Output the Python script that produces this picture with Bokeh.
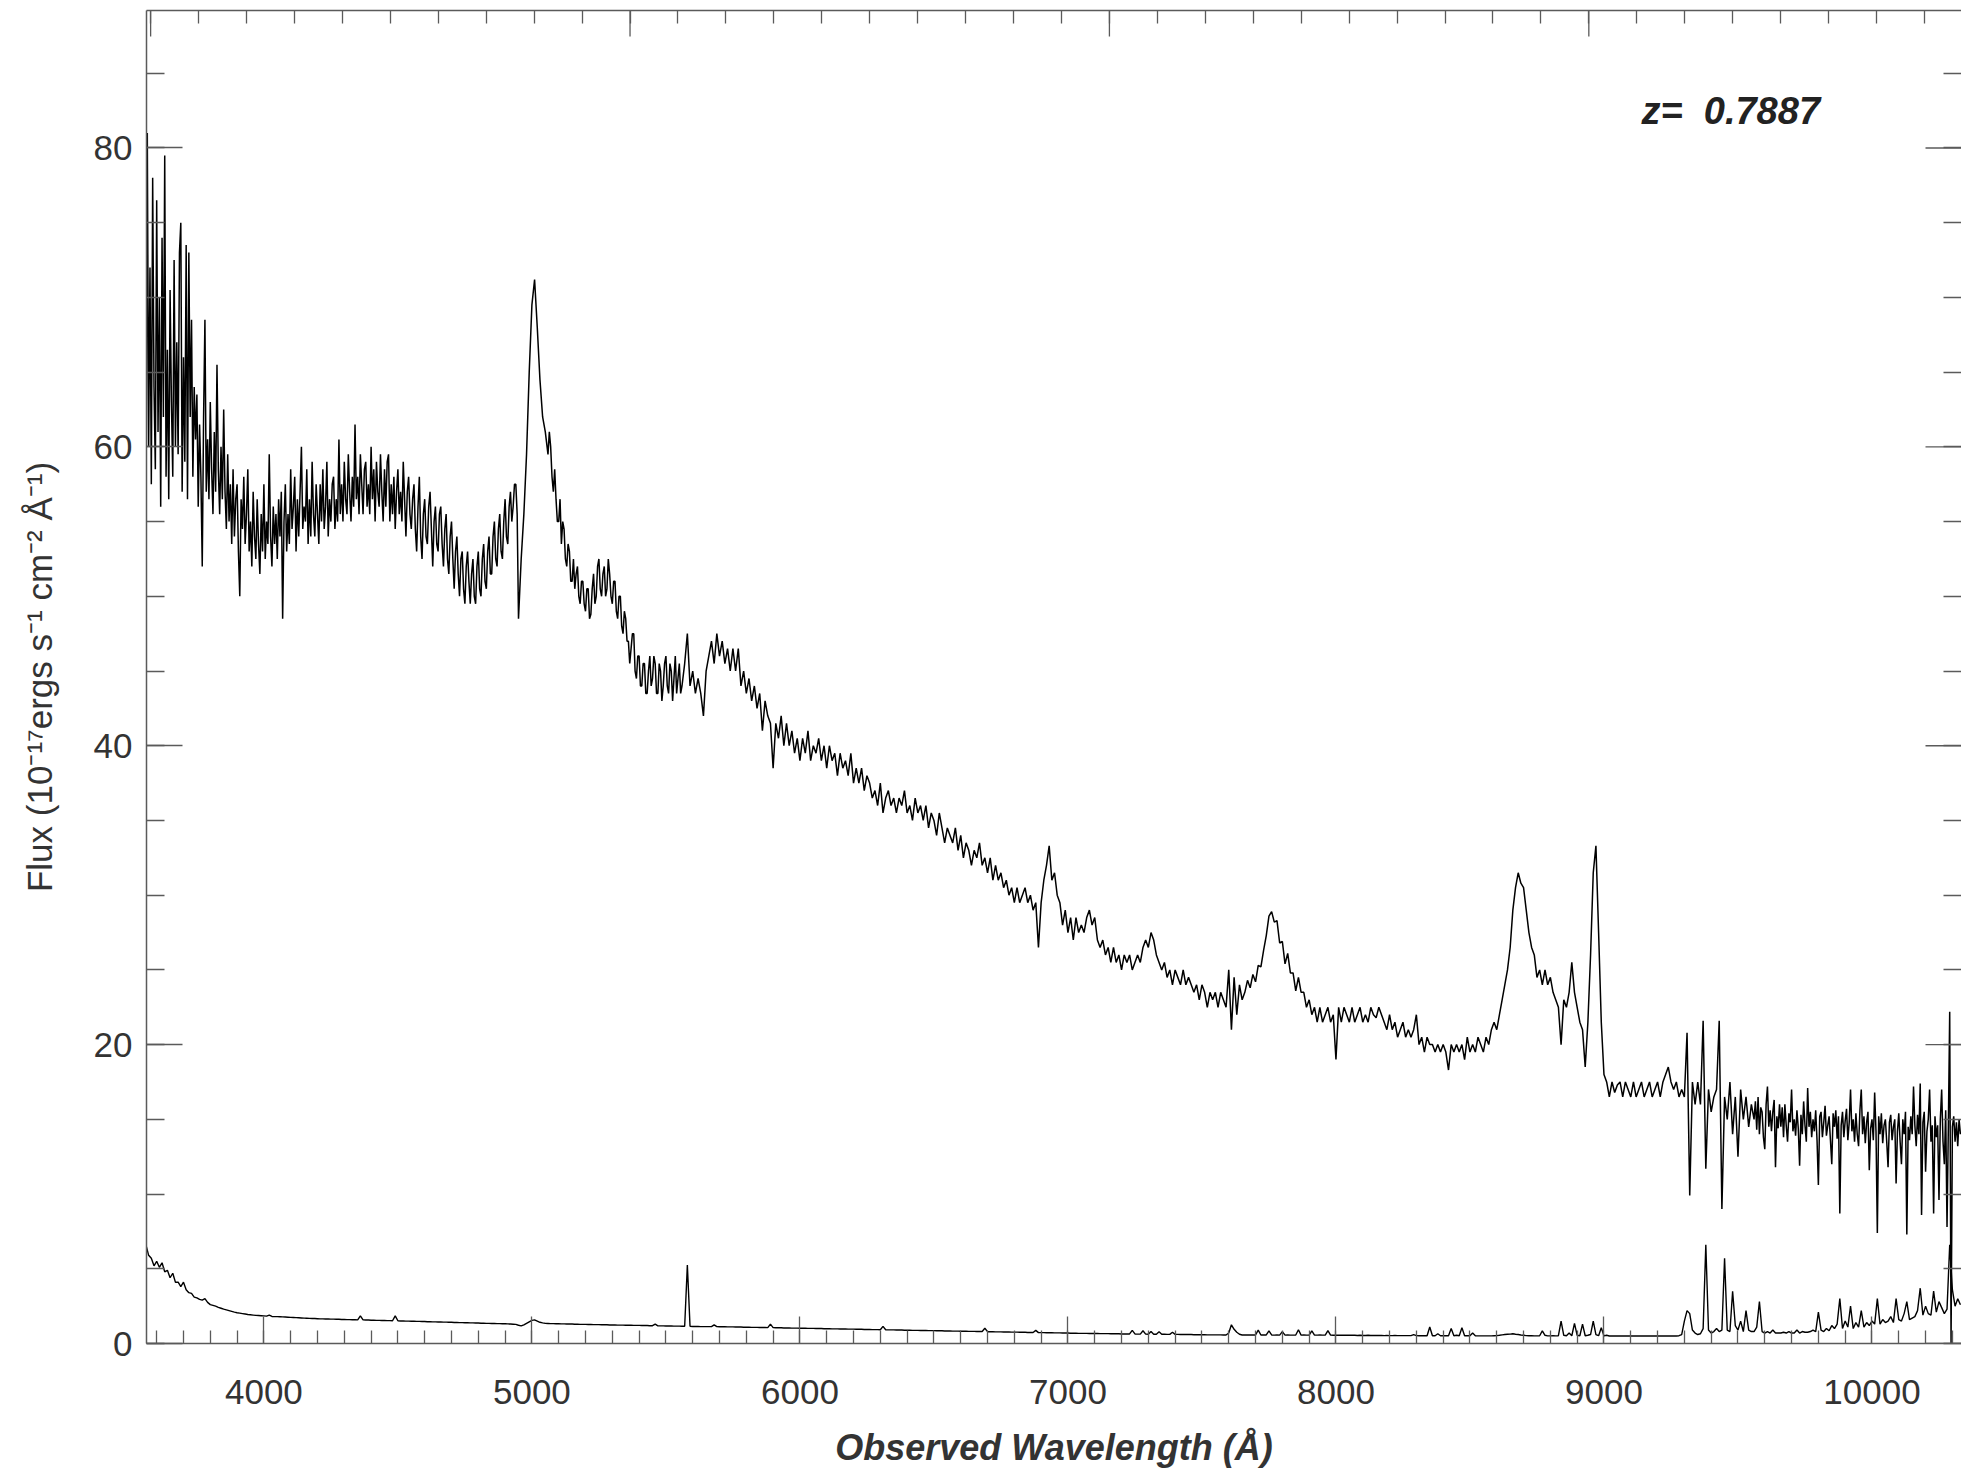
import numpy as np
from bokeh.plotting import figure
from bokeh.models import Range1d, LinearAxis, FixedTicker, Label, ColumnDataSource
from bokeh.embed import file_html
from bokeh.resources import INLINE

FONT = "Liberation Sans"
redshift = 0.7887

# ---------------- flux (1e-17 erg/s/cm2/A); each segment: start, step (A), values ----------------
flux_a_start, flux_a_step = 3560, 5
flux_a = [
    53.0, 81.0, 60.0, 72.0, 57.5, 78.0, 64.0, 58.5, 76.5, 61.0,
    70.0, 56.0, 74.0, 62.0, 79.5, 58.0, 66.5, 56.5, 70.5, 63.0,
    58.0, 72.5, 60.0, 67.0, 59.5, 73.0, 75.0, 57.0, 66.0, 59.0,
    73.5, 56.5, 73.0, 62.0, 68.5, 58.0, 64.0, 60.5, 63.5, 56.0,
    61.5, 58.0, 52.0, 62.0, 68.5, 57.0, 60.5, 56.5, 63.0, 58.5,
    55.5, 61.0, 57.0, 65.5, 58.5, 55.5, 60.0, 56.5, 62.5, 57.0,
    54.5, 59.5, 55.0, 57.5, 53.5, 58.5, 54.0, 56.5, 57.5, 53.0,
    50.0, 56.5, 54.5, 58.0, 53.5, 55.5, 58.5, 53.0, 55.0, 52.0,
    57.0, 54.0, 52.5, 56.5, 53.5, 51.5, 55.5, 53.0, 57.5, 52.5,
    55.0, 53.5, 59.5, 54.0, 52.0, 56.0, 53.5, 55.5, 52.5, 56.5,
    54.0, 57.0, 48.5, 55.0, 57.5, 53.0, 55.5, 53.5, 58.5, 54.5,
    56.0, 58.0, 53.0, 56.5, 54.0, 57.0, 60.0, 54.5, 56.0, 55.0,
    58.5, 53.5, 56.5, 54.0, 59.0, 55.5, 54.0, 57.5, 55.5, 53.5,
    57.5, 55.0, 58.5, 54.5, 56.0, 59.0, 54.0, 56.5, 55.0, 57.5,
    58.0, 54.5, 56.5, 55.0, 60.5, 55.5, 57.5, 55.0, 59.0, 56.5,
    55.5, 59.5, 57.0, 55.0, 58.0, 56.0, 61.5, 56.5, 58.0, 55.5,
    59.5, 57.5, 55.5, 58.5, 59.0, 56.0, 57.5, 55.5, 60.0, 56.5,
    58.5, 55.0, 59.0, 57.0, 56.0, 59.5, 57.0, 55.0, 58.5, 56.0,
    59.0, 59.5, 55.0, 57.5, 55.5, 58.0, 54.5, 57.0, 58.5, 55.5,
    57.0, 55.0, 59.0, 56.5, 54.0, 57.0, 58.0, 55.5, 54.5, 56.5,
    57.5, 54.5, 53.0, 56.0, 58.0, 54.0, 52.5, 55.5, 56.5, 54.0,
    53.5, 56.0, 57.0, 54.5, 52.0, 55.0, 56.0, 53.5, 53.0, 55.5,
    56.0, 53.5, 52.0, 54.5, 55.5, 52.5, 51.5, 54.0, 55.0, 52.5,
    50.5, 53.0, 54.0, 51.5, 50.0, 52.5, 53.0, 50.5, 49.5, 52.0,
    53.0, 51.0, 49.5, 51.5, 52.5, 50.0, 49.5, 52.0, 53.0, 50.5,
    50.0, 52.5, 53.5, 51.0, 50.5, 53.0, 54.0, 51.5, 51.5, 54.0,
    55.0, 52.5, 52.0, 54.5, 55.5, 53.0, 52.5, 55.0, 56.5, 54.0,
    53.5, 56.0, 57.0, 55.0, 56.0, 57.5, 57.5, 55.5, 48.5, 50.5,
]
flux_mg_start, flux_mg_step = 4960, 10
flux_mg = [52.5, 55.5, 59.5, 65.0, 69.5, 71.2, 68.0, 64.5, 62.0, 61.0]
flux_b_start, flux_b_step = 5060, 5
flux_b = [
    59.5, 61.0, 60.0, 58.0, 57.0, 58.5, 56.5, 55.0, 55.0, 56.5,
    53.5, 55.0, 54.5, 52.5, 52.0, 53.5, 53.0, 51.0, 51.0, 52.5,
    50.5, 51.5, 52.0, 50.0, 49.5, 51.0, 51.0, 49.5, 49.0, 50.5,
    50.5, 48.5, 48.8, 50.5, 51.5, 49.5, 50.0, 52.0, 52.5, 50.5,
    50.0, 51.5, 52.0, 50.0, 50.5, 52.5, 51.5, 50.0, 49.5, 51.0,
    51.0, 49.0, 48.5, 50.0, 50.0, 48.0, 47.5, 49.0, 48.5, 47.0,
    47.0, 45.5, 46.5, 47.5, 47.5, 45.0, 44.5, 46.0, 46.0, 44.0,
    44.0, 45.5, 45.5, 43.5, 43.5, 45.0, 46.0, 44.0, 44.5, 46.0,
    45.5, 43.5, 43.5, 45.5, 45.0, 43.0, 44.0, 45.5, 46.0, 44.0,
    43.5, 45.5, 45.0, 43.0, 44.5, 46.0, 43.5, 44.5, 45.5, 43.5,
]
flux_c_start, flux_c_step = 5560, 10
flux_c = [
    44.0, 45.5, 47.5, 44.0, 45.0, 43.5, 44.5, 43.5, 42.0, 45.0,
    46.0, 47.0, 45.5, 47.5, 46.0, 47.0, 45.5, 46.5, 45.0, 46.5,
    45.0, 46.5, 44.0, 45.0, 43.5, 44.5, 43.0, 44.0, 42.5, 43.5,
    41.0, 43.0, 42.0, 41.5, 38.5, 41.5, 40.5, 42.0, 40.0, 41.5,
    40.0, 41.0, 39.5, 40.5, 39.0, 40.5, 39.5, 41.0, 39.0, 40.0,
    39.5, 40.5, 39.0, 40.0, 38.5, 40.0, 39.0, 39.5, 38.0, 39.5,
    38.5, 39.0, 38.0, 39.5, 37.5, 38.5, 37.5, 38.5, 37.0, 38.0,
    37.5, 36.5, 37.0, 36.0, 37.5, 35.5, 36.5, 37.0, 36.0, 36.5,
    35.5, 36.5, 36.0, 37.0, 35.5, 36.0, 35.0, 36.5, 35.5, 36.0,
    35.0, 36.0, 34.5, 35.5, 35.0, 34.0, 35.5, 34.5, 33.5, 34.5,
]
flux_d_start, flux_d_step = 6560, 10
flux_d = [
    34.0, 33.5, 34.5, 33.0, 34.0, 32.5, 33.5, 33.0, 32.0, 33.0,
    32.5, 33.5, 32.0, 32.5, 31.5, 32.5, 31.0, 32.0, 31.0, 31.5,
    30.5, 31.0, 30.0, 30.5, 29.5, 30.5, 29.5, 30.0, 30.5, 29.5,
    30.0, 29.0, 29.5, 26.5, 29.5, 31.0, 32.0, 33.3, 31.0, 31.5,
    30.0, 29.5, 28.0, 29.0, 27.5, 28.5, 27.0, 28.5, 27.5, 28.0,
    27.5, 28.5, 29.0, 28.0, 28.5, 27.0, 26.5, 27.0, 26.0, 26.5,
    25.5, 26.5, 25.5, 26.0, 25.0, 26.0, 25.5, 26.0, 25.0, 25.5,
    26.0, 25.5, 26.5, 27.0, 26.5, 27.5, 27.0, 26.0, 25.5, 25.0,
    25.5, 24.5, 25.0, 24.0, 25.0, 24.5, 24.0, 25.0, 24.0, 24.5,
    24.0, 23.5, 24.0, 23.0, 24.0, 23.5, 22.5, 23.5, 23.0, 23.5,
]
flux_e_start, flux_e_step = 7560, 10
flux_e = [
    22.5, 23.5, 23.0, 22.5, 25.0, 21.0, 24.5, 22.0, 24.0, 23.0,
    23.5, 24.3, 23.8, 24.7, 24.2, 25.3, 25.2, 26.3, 27.3, 28.6,
    28.9, 28.2, 28.3, 26.8, 26.9, 25.4, 26.1, 24.8, 24.8, 23.6,
    24.5, 23.5, 23.5, 22.5, 23.0, 22.0, 22.5, 21.5, 22.5, 21.5,
    22.0, 22.5, 21.5, 22.0, 19.0, 22.5, 21.5, 22.5, 22.0, 21.5,
    22.5, 21.5, 22.0, 22.5, 21.5, 22.0, 21.5, 22.5, 22.0, 21.8,
    22.5, 22.0, 21.5, 21.0, 22.0, 21.0, 21.5, 20.5, 21.0, 21.5,
    20.5, 21.0, 20.5, 21.0, 22.0, 20.0, 20.5, 19.5, 20.5, 20.0,
    20.0, 19.5, 20.0, 19.5, 20.0, 19.5, 18.3, 20.0, 19.5, 20.0,
    19.5, 20.0, 19.0, 20.5, 19.5, 20.0, 19.5, 20.5, 20.0, 19.5,
]
flux_f_start, flux_f_step = 8560, 10
flux_f = [
    20.5, 20.0, 21.0, 21.5, 21.0, 22.0, 23.0, 24.0, 25.0, 26.5,
    29.0, 30.5, 31.5, 30.8, 30.5, 29.0, 27.5, 26.5, 26.0, 24.5,
    25.0, 24.0, 25.0, 24.0, 24.5, 23.5, 23.0, 22.5, 20.0, 23.0,
    22.5, 23.5, 25.5, 23.5, 22.5, 21.5, 21.0, 18.5, 21.5, 26.0,
    31.5, 33.3, 27.5, 21.5, 18.0, 17.5, 16.5, 17.5, 16.8, 17.3,
    17.5, 16.5, 17.5, 17.0, 16.5, 17.5, 16.5, 17.0, 17.5, 16.5,
    17.0, 17.5, 16.5, 17.0, 17.5, 16.5, 17.5, 18.0, 18.5, 17.5,
    17.0, 17.5, 16.5, 17.0, 16.5, 20.8, 9.9, 17.5, 16.0, 17.5,
    16.0, 21.6, 11.7, 17.0, 15.5, 16.5, 17.0, 21.6, 9.0, 16.5,
    15.0, 17.5, 14.0, 16.5, 12.5, 17.0, 15.0, 16.5, 14.5, 16.0,
]
flux_g_start, flux_g_step = 9560, 5
flux_g = [
    15.0, 16.2, 14.3, 16.5, 14.0, 15.8, 15.5, 13.8, 13.0, 16.0,
    17.2, 14.5, 15.6, 14.2, 15.5, 16.3, 11.8, 15.2, 14.4, 16.0,
    14.5, 15.8, 13.8, 16.0, 14.6, 13.5, 15.4, 14.8, 17.0, 14.2,
    15.0, 13.9, 15.6, 14.4, 11.9, 15.3, 14.0, 16.2, 14.6, 13.5,
    17.1, 14.5, 15.5, 13.8, 15.0, 14.2, 15.6, 13.6, 10.6, 15.2,
    15.5, 13.8, 14.8, 15.9, 13.9, 14.6, 15.2, 13.6, 12.0, 15.4,
    14.5, 15.6, 13.7, 15.2, 8.7, 14.6, 15.5, 13.8, 14.9, 15.7,
    13.6, 14.8, 17.0, 14.2, 15.0, 13.5, 15.4, 14.0, 13.2, 15.6,
    17.0, 14.0, 15.2, 13.4, 14.8, 15.5, 11.6, 14.4, 15.0, 13.6,
    16.8, 14.2, 7.4, 15.2, 14.0, 15.4, 13.4, 14.6, 15.0, 13.5,
    11.8, 14.8, 15.3, 13.6, 14.5, 15.0, 10.7, 14.2, 15.4, 13.5,
    12.0, 15.0, 14.0, 15.5, 7.3, 14.5, 13.6, 15.2, 14.0, 17.2,
    14.6, 13.2, 15.3, 14.0, 17.4, 8.6, 14.8, 15.5, 11.5, 14.2,
    15.0, 17.0, 13.5, 14.6, 8.7, 15.2, 13.8, 14.6, 9.6, 15.0,
    17.0, 13.5, 12.0, 15.6, 7.8, 14.6, 22.2, 0.0, 14.5, 15.2,
    13.5, 14.8, 13.2, 15.0, 14.0,
]

# ---------------- error spectrum: start 3560, 10 A sampling ----------------
err_start, err_step = 3560, 10
err_a = [
    6.6, 5.9, 5.7, 5.2, 5.5, 5.1, 5.4, 4.8, 4.9, 4.4,
    4.7, 4.1, 4.1, 3.8, 4.1, 3.6, 3.4, 3.35, 3.1, 3.05,
    2.95, 2.9, 3.0, 2.75, 2.6, 2.55, 2.5, 2.42, 2.36, 2.3,
    2.25, 2.2, 2.15, 2.1, 2.06, 2.03, 2.0, 1.97, 1.94, 1.92,
    1.9, 1.88, 1.87, 1.86, 1.85, 1.83, 1.9, 1.81, 1.80, 1.80,
    1.79, 1.78, 1.77, 1.76, 1.75, 1.74, 1.73, 1.72, 1.71, 1.70,
    1.69, 1.68, 1.67, 1.67, 1.66, 1.65, 1.65, 1.64, 1.64, 1.63,
    1.63, 1.62, 1.62, 1.61, 1.61, 1.60, 1.60, 1.59, 1.59, 1.58,
    1.85, 1.58, 1.57, 1.57, 1.56, 1.56, 1.55, 1.55, 1.54, 1.54,
    1.53, 1.53, 1.52, 1.85, 1.52, 1.51, 1.51, 1.50, 1.50, 1.49,
]
err_b = [
    1.49, 1.48, 1.48, 1.47, 1.47, 1.46, 1.46, 1.45, 1.45, 1.44,
    1.44, 1.43, 1.43, 1.42, 1.42, 1.41, 1.41, 1.40, 1.40, 1.39,
    1.39, 1.38, 1.38, 1.37, 1.37, 1.36, 1.36, 1.35, 1.35, 1.34,
    1.34, 1.33, 1.33, 1.32, 1.32, 1.31, 1.30, 1.29, 1.28, 1.22,
    1.18, 1.25, 1.35, 1.45, 1.55, 1.58, 1.50, 1.42, 1.38, 1.35,
    1.34, 1.33, 1.33, 1.32, 1.32, 1.31, 1.31, 1.30, 1.30, 1.30,
    1.29, 1.29, 1.28, 1.28, 1.28, 1.27, 1.27, 1.26, 1.26, 1.26,
    1.25, 1.25, 1.25, 1.24, 1.24, 1.24, 1.23, 1.23, 1.23, 1.22,
    1.22, 1.22, 1.21, 1.21, 1.21, 1.20, 1.20, 1.20, 1.19, 1.19,
    1.30, 1.18, 1.18, 1.18, 1.17, 1.17, 1.17, 1.16, 1.16, 1.16,
]
err_c = [
    1.15, 1.15, 5.25, 1.15, 1.14, 1.14, 1.14, 1.13, 1.13, 1.13,
    1.13, 1.13, 1.25, 1.13, 1.12, 1.12, 1.12, 1.11, 1.11, 1.11,
    1.10, 1.10, 1.10, 1.09, 1.09, 1.09, 1.08, 1.08, 1.08, 1.07,
    1.07, 1.07, 1.06, 1.30, 1.06, 1.05, 1.05, 1.05, 1.04, 1.04,
    1.04, 1.03, 1.03, 1.03, 1.02, 1.02, 1.02, 1.01, 1.01, 1.01,
    1.00, 1.00, 1.00, 0.99, 0.99, 0.99, 0.98, 0.98, 0.98, 0.97,
    0.97, 0.97, 0.96, 0.96, 0.96, 0.95, 0.95, 0.95, 0.94, 0.94,
    0.94, 0.93, 0.93, 0.93, 0.92, 1.15, 0.92, 0.91, 0.91, 0.91,
    0.90, 0.90, 0.90, 0.89, 0.89, 0.89, 0.88, 0.88, 0.88, 0.87,
    0.87, 0.87, 0.86, 0.86, 0.86, 0.85, 0.85, 0.85, 0.84, 0.84,
]
err_d = [
    0.84, 0.83, 0.83, 0.83, 0.82, 0.82, 0.82, 0.81, 0.81, 0.81,
    0.80, 0.80, 0.80, 1.02, 0.79, 0.79, 0.79, 0.78, 0.78, 0.78,
    0.77, 0.77, 0.77, 0.76, 0.76, 0.76, 0.75, 0.75, 0.75, 0.74,
    0.74, 0.74, 0.88, 0.73, 0.73, 0.73, 0.72, 0.72, 0.72, 0.71,
    0.71, 0.71, 0.70, 0.70, 0.70, 0.69, 0.69, 0.69, 0.68, 0.68,
    0.68, 0.68, 0.67, 0.67, 0.67, 0.67, 0.66, 0.66, 0.66, 0.66,
    0.65, 0.65, 0.65, 0.65, 0.64, 0.64, 0.64, 0.64, 0.88, 0.64,
    0.63, 0.63, 0.85, 0.63, 0.62, 0.80, 0.62, 0.62, 0.78, 0.62,
    0.62, 0.61, 0.61, 0.75, 0.61, 0.61, 0.60, 0.60, 0.60, 0.60,
    0.60, 0.59, 0.59, 0.59, 0.59, 0.59, 0.58, 0.58, 0.58, 0.58,
]
err_e = [
    0.58, 0.58, 0.57, 0.57, 0.70, 1.25, 0.95, 0.75, 0.62, 0.57,
    0.57, 0.57, 0.58, 0.57, 0.57, 0.90, 0.57, 0.58, 0.57, 0.85,
    0.57, 0.56, 0.58, 0.56, 0.80, 0.56, 0.57, 0.56, 0.56, 0.57,
    0.92, 0.56, 0.57, 0.56, 0.56, 0.85, 0.56, 0.56, 0.57, 0.56,
    0.56, 0.86, 0.56, 0.55, 0.56, 0.55, 0.55, 0.56, 0.55, 0.55,
    0.55, 0.55, 0.54, 0.55, 0.54, 0.54, 0.55, 0.54, 0.54, 0.54,
    0.54, 0.54, 0.53, 0.54, 0.53, 0.53, 0.54, 0.53, 0.53, 0.53,
    0.53, 0.53, 0.53, 0.60, 0.53, 0.52, 0.52, 0.52, 0.52, 1.10,
    0.52, 0.52, 0.65, 0.52, 0.52, 0.52, 0.52, 1.00, 0.52, 0.55,
    0.52, 1.05, 0.52, 0.52, 0.52, 0.70, 0.52, 0.51, 0.51, 0.51,
]
err_f = [
    0.51, 0.51, 0.51, 0.52, 0.53, 0.55, 0.58, 0.60, 0.62, 0.63,
    0.65, 0.62, 0.60, 0.57, 0.55, 0.53, 0.52, 0.52, 0.51, 0.51,
    0.52, 0.85, 0.55, 0.51, 0.51, 0.52, 0.51, 0.52, 1.50, 0.55,
    0.52, 0.70, 0.52, 1.35, 0.55, 0.52, 1.30, 0.52, 0.55, 0.60,
    1.50, 0.60, 0.52, 1.05, 0.51, 0.55, 0.50, 0.50, 0.50, 0.50,
    0.50, 0.50, 0.50, 0.50, 0.50, 0.50, 0.51, 0.50, 0.50, 0.50,
    0.50, 0.50, 0.50, 0.50, 0.50, 0.50, 0.50, 0.50, 0.50, 0.50,
    0.50, 0.50, 0.52, 0.60, 1.50, 2.20, 2.00, 0.90, 0.70, 0.60,
    0.65, 1.00, 6.60, 0.90, 0.70, 0.80, 1.00, 0.80, 0.90, 5.70,
    0.90, 0.80, 3.50, 1.20, 0.90, 1.50, 0.80, 2.20, 0.90, 0.80,
]
err_g = [
    0.80, 1.10, 2.80, 0.80, 0.70, 0.80, 0.70, 0.90, 0.70, 0.70,
    0.70, 0.75, 0.70, 0.80, 0.70, 0.70, 0.90, 0.70, 0.80, 0.75,
    0.75, 0.80, 0.90, 0.80, 2.10, 0.90, 0.80, 1.00, 0.85, 1.20,
    1.00, 1.30, 3.00, 1.00, 1.50, 1.10, 2.50, 1.00, 1.40, 1.10,
    2.20, 1.10, 1.40, 1.20, 1.50, 1.30, 3.00, 1.30, 1.60, 1.40,
    1.50, 1.80, 1.40, 3.00, 1.60, 1.50, 2.00, 2.80, 1.60, 1.70,
    1.80, 2.20, 3.70, 1.90, 2.50, 2.00, 1.90, 3.50, 2.10, 2.80,
    2.40, 2.00, 2.30, 6.60, 3.60, 2.50, 3.00, 2.60,
]

# ---------------- axes ----------------
x_ticks = [4000, 5000, 6000, 7000, 8000, 9000, 10000]
x_minor = list(range(3600, 10400, 100))
rest_ticks = [2000, 3000, 4000, 5000]          # top axis: rest-frame wavelength
rest_minor = list(range(2000, 5800, 100))
y_ticks = [0, 20, 40, 60, 80]
y_minor = list(range(0, 90, 5))
redshift_text = "z=\u00a0 0.7887"
x_title = "Observed Wavelength (Å)"
y_title = "Flux (10⁻¹⁷ergs s⁻¹ cm⁻² Å⁻¹)"
x_lo, x_hi = 3562, 10334
y_lo, y_hi = 0, 89.2

# ---------------- assemble ----------------
flux_segments = [
    (flux_a_start, flux_a_step, flux_a),
    (flux_mg_start, flux_mg_step, flux_mg),
    (flux_b_start, flux_b_step, flux_b),
    (flux_c_start, flux_c_step, flux_c),
    (flux_d_start, flux_d_step, flux_d),
    (flux_e_start, flux_e_step, flux_e),
    (flux_f_start, flux_f_step, flux_f),
    (flux_g_start, flux_g_step, flux_g),
]
fw, fv = [], []
for start, step, vals in flux_segments:
    fw.append(start + step * np.arange(len(vals)))
    fv.append(np.asarray(vals, dtype=float))
flux_src = ColumnDataSource(dict(wave=np.concatenate(fw), flux=np.concatenate(fv)))

err_all = np.asarray(err_a + err_b + err_c + err_d + err_e + err_f + err_g, dtype=float)
err_wave = err_start + err_step * np.arange(len(err_all))
err_src = ColumnDataSource(dict(wave=err_wave, err=err_all))

p = figure(width=1961, height=1470,
           x_range=Range1d(x_lo, x_hi), y_range=Range1d(y_lo, y_hi),
           output_backend="svg", toolbar_location=None,
           min_border_left=146, min_border_right=0,
           min_border_top=10, min_border_bottom=126)
p.extra_x_ranges = {"rest": Range1d(x_lo / (1 + redshift), x_hi / (1 + redshift))}
p.outline_line_color = None
p.xgrid.visible = False
p.ygrid.visible = False
p.background_fill_color = "white"
p.border_fill_color = "white"

p.line("wave", "flux", source=flux_src, line_color="black", line_width=1.5)
p.line("wave", "err", source=err_src, line_color="black", line_width=1.4)

AX_COLOR = "#5a5a5a"
LBL_COLOR = "#333333"


def style_axis(ax, major_len, minor_len):
    ax.axis_line_color = AX_COLOR
    ax.axis_line_width = 1.5
    ax.major_tick_line_color = AX_COLOR
    ax.minor_tick_line_color = AX_COLOR
    ax.major_tick_line_width = 1.3
    ax.minor_tick_line_width = 1.3
    ax.major_tick_in = major_len
    ax.major_tick_out = 0
    ax.minor_tick_in = minor_len
    ax.minor_tick_out = 0
    ax.major_label_text_font = FONT
    ax.major_label_text_font_size = "35px"
    ax.major_label_text_color = LBL_COLOR


bx = p.xaxis[0]
bx.ticker = FixedTicker(ticks=x_ticks, minor_ticks=x_minor)
style_axis(bx, 27, 13)
bx.major_label_standoff = 36
bx.axis_label = x_title
bx.axis_label_text_font = FONT
bx.axis_label_text_font_style = "bold italic"
bx.axis_label_text_font_size = "36px"
bx.axis_label_text_color = LBL_COLOR
bx.axis_label_standoff = 20

ly = p.yaxis[0]
ly.ticker = FixedTicker(ticks=y_ticks, minor_ticks=y_minor)
style_axis(ly, 36, 18)
ly.major_label_standoff = 14
ly.axis_label = y_title
ly.axis_label_text_font = FONT
ly.axis_label_text_font_style = "normal"
ly.axis_label_text_font_size = "35px"
ly.axis_label_text_color = LBL_COLOR
ly.axis_label_standoff = 32

# top (rest-frame wavelength) and right: axis line + minor ticks; major ticks as rays
top = LinearAxis(x_range_name="rest", ticker=FixedTicker(ticks=[], minor_ticks=rest_minor))
style_axis(top, 26, 13)
top.major_label_standoff = 0
p.add_layout(top, "above")

right = LinearAxis(ticker=FixedTicker(ticks=[], minor_ticks=y_minor))
style_axis(right, 36, 18)
right.major_label_standoff = 0
right.axis_line_color = None
p.add_layout(right, "right")

p.ray(x=rest_ticks, y=[y_hi] * len(rest_ticks), x_range_name="rest",
      length=26, length_units="screen", angle=-np.pi / 2,
      line_color=AX_COLOR, line_width=1.3)
p.ray(x=[x_hi] * len(y_ticks), y=y_ticks, length=36, length_units="screen",
      angle=np.pi, line_color=AX_COLOR, line_width=1.3)

p.add_layout(Label(x=9140, y=82.5, text=redshift_text,
                   text_font=FONT, text_font_style="bold italic",
                   text_font_size="38px", text_color="#222222",
                   text_baseline="middle", text_align="left"))

open("out.html", "w").write(file_html(p, INLINE))
